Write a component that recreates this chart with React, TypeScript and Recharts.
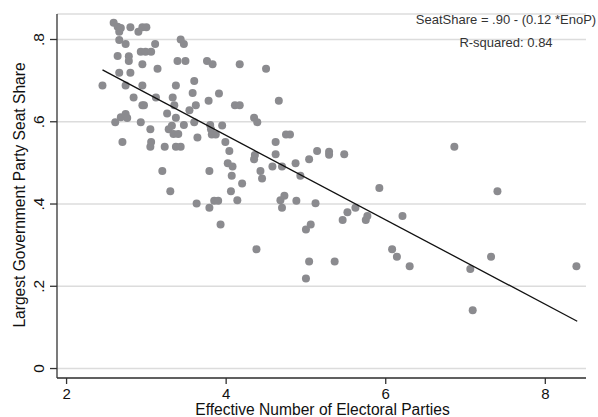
import React from "react";
import { ScatterChart, Scatter, XAxis, YAxis, CartesianGrid } from "recharts";

// Effective number of electoral parties (x) and largest government party seat share (y)
const eno = [
  2.45, 2.59, 2.64, 2.66, 2.68, 2.80, 2.90, 2.95, 3.00, 2.66, 2.74, 2.64, 2.78, 2.78, 2.93, 2.99, 3.06, 3.11,
  2.95, 3.14, 2.66, 2.80, 2.74, 2.95, 2.84, 2.95, 2.97, 3.12, 2.61, 2.68, 2.74, 2.76, 2.93, 3.05, 2.70, 3.06,
  3.05, 3.20, 3.30, 3.23, 3.26, 3.28, 3.32, 3.34, 3.40, 3.37, 3.37, 3.43, 3.33, 3.35, 3.37, 3.43, 3.47, 3.39,
  3.49, 3.47, 3.54, 3.60, 3.58, 3.60, 3.62, 3.64, 3.78, 3.76, 3.83, 3.91, 3.80, 3.81, 3.82, 3.87, 3.95, 3.99,
  4.04, 4.02, 4.08, 3.79, 4.07, 4.11, 4.17, 4.17, 4.20, 4.06, 4.14, 3.63, 3.79, 3.85, 3.90, 3.93, 4.35, 4.39,
  4.50, 4.66, 4.62, 4.62, 4.36, 4.35, 4.43, 4.45, 4.58, 4.70, 4.75, 4.80, 4.68, 4.73, 4.70, 4.88, 4.38, 4.87,
  4.93, 5.04, 5.14, 5.29, 5.29, 5.48, 6.86, 5.92, 5.12, 5.62, 5.52, 5.46, 5.75, 5.77, 6.21, 5.00, 5.06, 5.04,
  5.00, 5.36, 6.08, 6.14, 6.30, 7.06, 7.09, 7.32, 8.39, 7.40,
];
const seatShare = [
  0.688, 0.841, 0.831, 0.819, 0.828, 0.830, 0.819, 0.830, 0.830, 0.799, 0.789, 0.760, 0.759, 0.748, 0.770, 0.770, 0.770, 0.789,
  0.740, 0.729, 0.719, 0.719, 0.688, 0.688, 0.659, 0.640, 0.640, 0.659, 0.599, 0.611, 0.619, 0.609, 0.599, 0.582, 0.551, 0.551,
  0.539, 0.480, 0.431, 0.539, 0.620, 0.582, 0.590, 0.570, 0.570, 0.610, 0.539, 0.539, 0.659, 0.640, 0.688, 0.800, 0.789, 0.748,
  0.748, 0.592, 0.628, 0.599, 0.670, 0.699, 0.640, 0.562, 0.651, 0.748, 0.740, 0.669, 0.592, 0.582, 0.569, 0.569, 0.591, 0.551,
  0.529, 0.499, 0.491, 0.480, 0.469, 0.640, 0.640, 0.740, 0.450, 0.431, 0.409, 0.401, 0.391, 0.408, 0.408, 0.350, 0.610, 0.599,
  0.729, 0.651, 0.551, 0.521, 0.519, 0.509, 0.480, 0.462, 0.491, 0.491, 0.569, 0.569, 0.409, 0.420, 0.391, 0.408, 0.290, 0.499,
  0.469, 0.509, 0.529, 0.527, 0.520, 0.521, 0.539, 0.439, 0.402, 0.391, 0.380, 0.361, 0.361, 0.371, 0.371, 0.338, 0.350, 0.260,
  0.219, 0.260, 0.290, 0.272, 0.249, 0.242, 0.142, 0.272, 0.249, 0.431,
];

// Fitted regression line endpoints
const fitX = [2.45, 8.4];
const fitY = [0.726, 0.115];

const xTicks = [2, 4, 6, 8];
const yTicks = [0, 0.2, 0.4, 0.6, 0.8];
const yTickLabels = ["0", ".2", ".4", ".6", ".8"];

const xTitle = "Effective Number of Electoral Parties";
const yTitle = "Largest Government Party Seat Share";
const noteLine1 = "SeatShare = .90 - (0.12 *EnoP)";
const noteLine2 = "R-squared: 0.84";

const points = eno.map((x, i) => ({ x, y: seatShare[i] }));
const fitLine = fitX.map((x, i) => ({ x, y: fitY[i] }));

const FONT = "'Liberation Sans', Arial, Helvetica, sans-serif";

const XTick = (props: any) => {
  const { x, y, payload } = props;
  return (
    <text x={x} y={y + 12.5} textAnchor="middle" fontFamily={FONT} fontSize={15} fill="#111">
      {String(payload.value)}
    </text>
  );
};

const YTick = (props: any) => {
  const { x, y, payload } = props;
  const idx = yTicks.indexOf(payload.value);
  const label = idx >= 0 ? yTickLabels[idx] : String(payload.value);
  return (
    <text
      x={x}
      y={y}
      transform={`rotate(-90, ${x}, ${y})`}
      textAnchor="middle"
      fontFamily={FONT}
      fontSize={15.5}
      fill="#111"
    >
      {label}
    </text>
  );
};

const XTitle = (props: any) => {
  const vb = props.viewBox || { x: 57, width: 529 };
  const cx = vb.x + vb.width / 2 + 1;
  return (
    <text x={cx} y={415} textAnchor="middle" fontFamily={FONT} fontSize={15.6} fill="#111">
      {xTitle}
    </text>
  );
};

const YTitle = (props: any) => {
  const vb = props.viewBox || { y: 14, height: 364 };
  const cy = vb.y + vb.height / 2 - 1;
  const bx = 24.5;
  return (
    <text
      x={bx}
      y={cy}
      transform={`rotate(-90, ${bx}, ${cy})`}
      textAnchor="middle"
      fontFamily={FONT}
      fontSize={15.6}
      fill="#111"
    >
      {yTitle}
    </text>
  );
};

const Dot = (props: any) => <circle cx={props.cx} cy={props.cy} r={4} fill="#8b8b8f" />;
const NoDot = () => <g />;

export default function App() {
  return (
    <div style={{ position: "absolute", left: 0, top: 0, width: 598, height: 417, background: "#fff" }}>
      <ScatterChart width={598} height={417} margin={{ top: 14, right: 12, bottom: 0, left: 0 }}>
        <CartesianGrid vertical={false} stroke="#dcdcdc" strokeWidth={1.5} />
        <XAxis
          type="number"
          dataKey="x"
          domain={[1.88, 8.51]}
          ticks={xTicks}
          allowDataOverflow
          height={39}
          tickSize={6}
          tickMargin={2}
          stroke="#333"
          strokeWidth={1.3}
          tick={XTick}
          label={<XTitle />}
        />
        <YAxis
          type="number"
          dataKey="y"
          domain={[-0.023, 0.862]}
          ticks={yTicks}
          allowDataOverflow
          width={57}
          tickSize={7}
          tickMargin={6}
          stroke="#333"
          strokeWidth={1.3}
          tick={YTick}
          label={<YTitle />}
        />
        <Scatter data={points} shape={Dot} isAnimationActive={false} />
        <Scatter
          data={fitLine}
          shape={NoDot}
          line={{ stroke: "#111", strokeWidth: 1.3 }}
          isAnimationActive={false}
        />
        <text x={506} y={24.3} textAnchor="middle" fontFamily={FONT} fontSize={13} fill="#333">
          {noteLine1}
        </text>
        <text x={506} y={46.6} textAnchor="middle" fontFamily={FONT} fontSize={13} fill="#333">
          {noteLine2}
        </text>
      </ScatterChart>
    </div>
  );
}
